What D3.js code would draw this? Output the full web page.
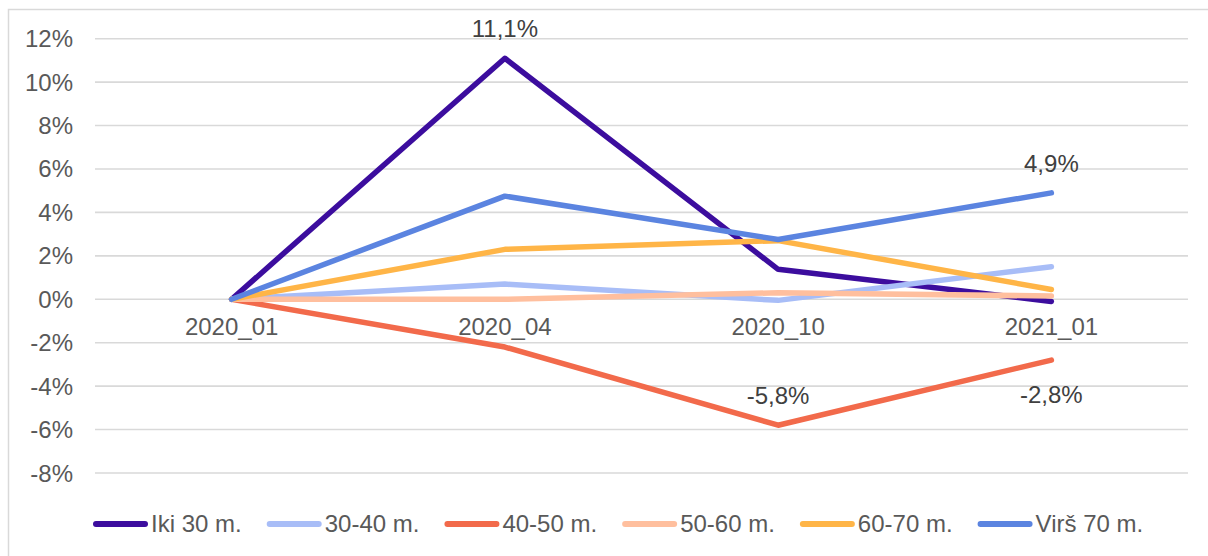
<!DOCTYPE html>
<html>
<head>
<meta charset="utf-8">
<script src="https://cdn.jsdelivr.net/npm/d3@7/dist/d3.min.js"></script>
<style>
  html, body { margin: 0; padding: 0; background: #ffffff; }
  svg { display: block; font-family: "Liberation Sans", Arial, sans-serif; }
</style>
</head>
<body>
<svg id="chart" width="1208" height="556"></svg>
<script>
// Periods on the horizontal axis
const periods = ["2020_01", "2020_04", "2020_10", "2021_01"];

// Change (%) relative to 2020_01 for each age group
const iki30   = [0, 11.1, 1.38, -0.1];
const m30_40  = [0, 0.7, -0.05, 1.5];
const m40_50  = [0, -2.2, -5.8, -2.8];
const m50_60  = [0, 0.0, 0.3, 0.15];
const m60_70  = [0, 2.3, 2.7, 0.45];
const virs70  = [0, 4.75, 2.75, 4.9];

const seriesNames = ["Iki 30 m.", "30-40 m.", "40-50 m.", "50-60 m.", "60-70 m.", "Virš 70 m."];
const seriesColors = ["#3c0d9e", "#a8bdf7", "#f26a4b", "#ffbf9e", "#ffb547", "#5b84e0"];

// Y axis tick values (percent)
const yTicks = [12, 10, 8, 6, 4, 2, 0, -2, -4, -6, -8];

// Value labels: [series index, period index, side]
const valueLabels = [
  [0, 1, "above"],
  [5, 3, "above"],
  [2, 2, "above"],
  [2, 3, "below"]
];

const series = [iki30, m30_40, m40_50, m50_60, m60_70, virs70].map((vals, i) => ({
  name: seriesNames[i], color: seriesColors[i], values: vals
}));

const svg = d3.select("#chart");
const fmtLabel = v => d3.format(".1f")(v).replace(".", ",").replace("−", "-") + "%";
const FS = 24;

// Outer chart border
svg.append("rect")
  .attr("x", 8.5).attr("y", 9.5)
  .attr("width", 1220).attr("height", 570)
  .attr("fill", "none").attr("stroke", "#d9d9d9").attr("stroke-width", 1.5);

const x = d3.scaleBand().domain(periods).range([95, 1188]);
const y = d3.scaleLinear().domain([-8, 12]).range([473, 38.7]);
const cx = p => x(p) + x.bandwidth() / 2;

// Horizontal gridlines
svg.append("g").selectAll("line").data(yTicks).join("line")
  .attr("x1", 95).attr("x2", 1188)
  .attr("y1", d => y(d)).attr("y2", d => y(d))
  .attr("stroke", "#d9d9d9").attr("stroke-width", 1.6);

// Y tick labels
svg.append("g").selectAll("text").data(yTicks).join("text")
  .attr("x", 73).attr("y", d => y(d) + 8.5)
  .attr("text-anchor", "end")
  .attr("font-size", FS).attr("fill", "#595959")
  .text(d => d + "%");

// X category labels
svg.append("g").selectAll("text").data(periods).join("text")
  .attr("x", d => cx(d)).attr("y", 335)
  .attr("text-anchor", "middle")
  .attr("font-size", FS).attr("fill", "#595959")
  .text(d => d);

// Series lines
const line = d3.line().x((d, i) => cx(periods[i])).y(d => y(d));
svg.append("g").selectAll("path").data(series).join("path")
  .attr("d", d => line(d.values))
  .attr("fill", "none")
  .attr("stroke", d => d.color)
  .attr("stroke-width", 5.5)
  .attr("stroke-linecap", "round")
  .attr("stroke-linejoin", "round");

// Value labels
svg.append("g").selectAll("text").data(valueLabels).join("text")
  .attr("x", d => cx(periods[d[1]]))
  .attr("y", d => y(series[d[0]].values[d[1]]) + (d[2] === "above" ? -21 : 43))
  .attr("text-anchor", "middle")
  .attr("font-size", FS).attr("fill", "#404040")
  .text(d => fmtLabel(series[d[0]].values[d[1]]));

// Legend
const legend = svg.append("g");
let lx = 93;
series.forEach(s => {
  legend.append("line")
    .attr("x1", lx + 3).attr("x2", lx + 52)
    .attr("y1", 524).attr("y2", 524)
    .attr("stroke", s.color).attr("stroke-width", 6)
    .attr("stroke-linecap", "round");
  const t = legend.append("text")
    .attr("x", lx + 58).attr("y", 532)
    .attr("font-size", FS).attr("fill", "#595959")
    .text(s.name);
  lx += 58 + t.node().getComputedTextLength() + 25;
});
</script>
</body>
</html>
